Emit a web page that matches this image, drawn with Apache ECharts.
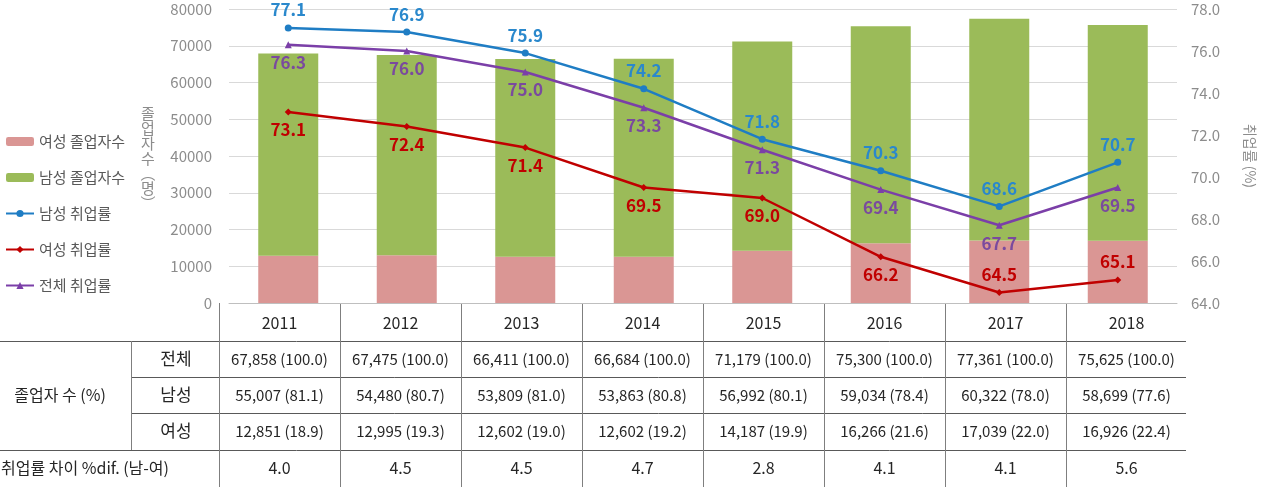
<!DOCTYPE html>
<html>
<head>
<meta charset="utf-8">
<script src="https://cdn.jsdelivr.net/npm/echarts@6/dist/echarts.min.js"></script>
<style>
  html, body { margin: 0; padding: 0; background: #fff; }
  #main { width: 1265px; height: 491px; }
</style>
</head>
<body>
<div id="main"></div>
<script>
// 연도
var years = ['2011', '2012', '2013', '2014', '2015', '2016', '2017', '2018'];

// 졸업자 수 (명)
var totalGrads  = [67858, 67475, 66411, 66684, 71179, 75300, 77361, 75625];
var maleGrads   = [55007, 54480, 53809, 53863, 56992, 59034, 60322, 58699];
var femaleGrads = [12851, 12995, 12602, 12602, 14187, 16266, 17039, 16926];

// 비율 (%)
var totalShare  = [100.0, 100.0, 100.0, 100.0, 100.0, 100.0, 100.0, 100.0];
var maleShare   = [81.1, 80.7, 81.0, 80.8, 80.1, 78.4, 78.0, 77.6];
var femaleShare = [18.9, 19.3, 19.0, 19.2, 19.9, 21.6, 22.0, 22.4];

// 취업률 (%)
var maleRate   = [77.1, 76.9, 75.9, 74.2, 71.8, 70.3, 68.6, 70.7];
var femaleRate = [73.1, 72.4, 71.4, 69.5, 69.0, 66.2, 64.5, 65.1];
var totalRate  = [76.3, 76.0, 75.0, 73.3, 71.3, 69.4, 67.7, 69.5];

// 취업률 차이 (남-여)
var rateGap = [4.0, 4.5, 4.5, 4.7, 2.8, 4.1, 4.1, 5.6];

// 축 범위
var countAxis = { min: 0, max: 80000, interval: 10000 };
var rateAxis  = { min: 64, max: 78, interval: 2 };

// 라벨 위치
var femaleLabelPos = ['bottom', 'bottom', 'bottom', 'bottom', 'bottom', 'bottom', 'top', 'top'];

var font = '"Noto Sans CJK KR", "Noto Sans", sans-serif';

var myChart = echarts.init(document.getElementById('main'));

function lineSeries(name, values, color, labelColor, symbol, size, pos) {
  return {
    name: name,
    type: 'line',
    yAxisIndex: 1,
    symbol: symbol,
    symbolSize: size,
    z: 5,
    lineStyle: { color: color, width: 2.5 },
    itemStyle: { color: color },
    label: {
      show: true,
      color: labelColor,
      fontFamily: font,
      fontWeight: 'bold',
      fontSize: 17,
      distance: 6,
      formatter: function (p) { return p.value.toFixed(1) }
    },
    data: values.map(function (v, i) {
      return { value: v, label: { position: typeof pos === 'string' ? pos : pos[i] } }
    })
  }
}

// 표 그리기 (graphic)
var colX0 = 219, colW = 121, tableRight = 1186;
var rowY = [323, 359, 395, 431, 468];
var tableColor = '#262626';
var graphic = [];

function txt(x, y, s, align, size) {
  graphic.push({
    type: 'text', x: x, y: y, silent: true,
    style: { text: s, fill: tableColor, fontFamily: font, fontSize: size || 15, align: align || 'center', verticalAlign: 'middle' }
  });
}
function ln(x1, y1, x2, y2, c) {
  graphic.push({
    type: 'line', silent: true,
    shape: { x1: x1, y1: y1, x2: x2, y2: y2 },
    style: { stroke: c || '#7f7f7f', lineWidth: 1 }
  });
}
function fmt(n, p) { return n.toLocaleString('en-US') + ' (' + p.toFixed(1) + ')' }

// 가로선
ln(0, 341.5, tableRight, 341.5, '#595959');
ln(131, 377.5, tableRight, 377.5, '#595959');
ln(131, 413.5, tableRight, 413.5, '#595959');
ln(0, 450.5, tableRight, 450.5, '#595959');
// 세로선
for (var i = 0; i < years.length; i++) {
  ln(colX0 + i * colW + 0.5, 303, colX0 + i * colW + 0.5, 487);
}
ln(131.5, 341, 131.5, 450);

// 왼쪽 머리
txt(60, 395, '졸업자 수 (%)', 'center', 16);
txt(176, rowY[1], '전체', 'center', 17);
txt(176, rowY[2], '남성', 'center', 17);
txt(176, rowY[3], '여성', 'center', 17);
txt(1, rowY[4], '취업률 차이 %dif. (남-여)', 'left', 16);

years.forEach(function (y, i) {
  var cx = colX0 + i * colW + colW / 2;
  txt(cx, rowY[0], y, 'center', 16);
  txt(cx, rowY[1], fmt(totalGrads[i], totalShare[i]));
  txt(cx, rowY[2], fmt(maleGrads[i], maleShare[i]));
  txt(cx, rowY[3], fmt(femaleGrads[i], femaleShare[i]));
  txt(cx, rowY[4], rateGap[i].toFixed(1), 'center', 16);
});

// 왼쪽 축 제목 (세로쓰기)
graphic.push({
  type: 'text', x: 148, y: 158, silent: true,
  style: { text: '졸\n업\n자\n수\n︵\n명\n︶', fill: '#8c8c8c', fontFamily: font, fontSize: 15, lineHeight: 15, align: 'center', verticalAlign: 'middle' }
});

const option = {
  animation: false,
  textStyle: { fontFamily: font },
  legend: {
    orient: 'vertical',
    left: 0,
    top: 129,
    itemWidth: 28,
    itemHeight: 9,
    itemGap: 21,
    textStyle: { color: '#595959', fontSize: 15, fontFamily: font },
    data: ['여성 졸업자수', '남성 졸업자수', '남성 취업률', '여성 취업률', '전체 취업률']
  },
  grid: { left: 229, right: 79, top: 9, bottom: 188 },
  xAxis: {
    type: 'category',
    data: years,
    axisLabel: { show: false },
    axisTick: { show: false },
    axisLine: { lineStyle: { color: '#BFBFBF' } }
  },
  yAxis: [
    {
      type: 'value',
      min: countAxis.min, max: countAxis.max, interval: countAxis.interval,
      axisLabel: { color: '#8c8c8c', fontSize: 15, margin: 17, formatter: function (v) { return String(v) } },
      axisLine: { show: false },
      axisTick: { show: false },
      splitLine: { lineStyle: { color: '#D9D9D9' } }
    },
    {
      type: 'value',
      min: rateAxis.min, max: rateAxis.max, interval: rateAxis.interval,
      name: '취업률 (%)',
      nameLocation: 'middle',
      nameRotate: -90,
      nameGap: 66,
      nameTextStyle: { color: '#8c8c8c', fontSize: 14 },
      axisLabel: { color: '#8c8c8c', fontSize: 15, margin: 14, formatter: function (v) { return v.toFixed(1) } },
      axisLine: { show: false },
      axisTick: { show: false },
      splitLine: { show: false }
    }
  ],
  graphic: graphic,
  series: [
    {
      name: '여성 졸업자수',
      type: 'bar',
      stack: 'grads',
      barWidth: 60,
      itemStyle: { color: '#DA9694' },
      data: femaleGrads
    },
    {
      name: '남성 졸업자수',
      type: 'bar',
      stack: 'grads',
      barWidth: 60,
      itemStyle: { color: '#9BBB59' },
      data: maleGrads
    },
    lineSeries('남성 취업률', maleRate, '#1F7DC4', '#2A88CC', 'circle', 7, 'top'),
    lineSeries('여성 취업률', femaleRate, '#C00000', '#C00000', 'diamond', 7, femaleLabelPos),
    lineSeries('전체 취업률', totalRate, '#7B3FA8', '#7A4A9E', 'triangle', 7, 'bottom')
  ]
}
myChart.setOption(option)
</script>
</body>
</html>
